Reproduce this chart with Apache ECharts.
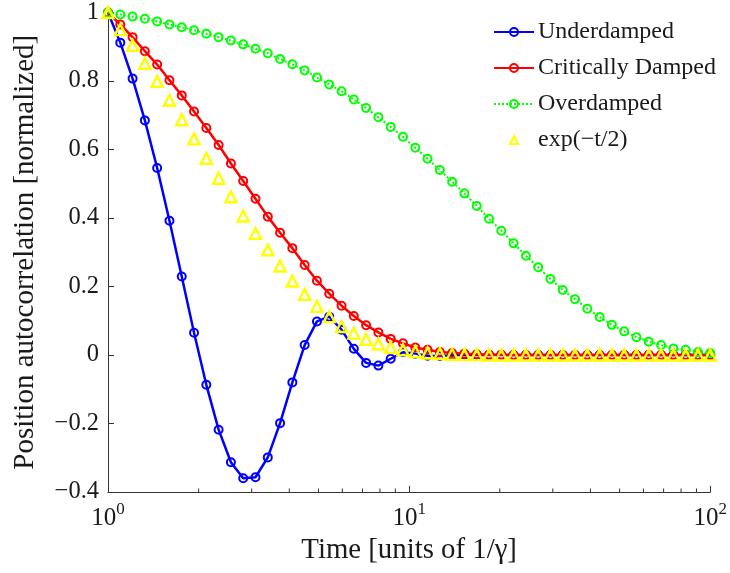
<!DOCTYPE html>
<html>
<head>
<meta charset="utf-8">
<script src="https://cdn.jsdelivr.net/npm/echarts@6/dist/echarts.min.js"></script>
<style>
html,body{margin:0;padding:0;background:#fff;}
#chart{width:730px;height:573px;}
</style>
</head>
<body>
<div id="chart"></div>
<script>
// Time samples (log-spaced, units of 1/gamma)
const times = [1, 1.0985, 1.2068, 1.3257, 1.4563, 1.5999, 1.7575, 1.9307, 2.1210, 2.3300,
  2.5595, 2.8118, 3.0888, 3.3932, 3.7276, 4.0949, 4.4984, 4.9417, 5.4287, 5.9636,
  6.5513, 7.1969, 7.9060, 8.6851, 9.5410, 10.481, 11.514, 12.649, 13.895, 15.264,
  16.768, 18.421, 20.236, 22.230, 24.421, 26.827, 29.471, 32.375, 35.565, 39.069,
  42.919, 47.149, 51.795, 56.899, 62.506, 68.665, 75.431, 82.864, 91.030, 100];

const underdamped = [1.000, 0.912, 0.807, 0.685, 0.546, 0.392, 0.229, 0.065, -0.087, -0.218,
  -0.313, -0.360, -0.357, -0.299, -0.199, -0.080, 0.029, 0.098, 0.112, 0.074,
  0.018, -0.023, -0.031, -0.011, 0.008, 0.004, -0.002, -0.003, -0.001, 0.001,
  0, 0, 0, 0, 0, 0, 0, 0, 0, 0,
  0, 0, 0, 0, 0, 0, 0, 0, 0, 0];

const criticallyDamped = [1.000, 0.965, 0.928, 0.887, 0.848, 0.802, 0.758, 0.711, 0.663, 0.613,
  0.559, 0.508, 0.456, 0.404, 0.357, 0.312, 0.263, 0.217, 0.179, 0.144,
  0.114, 0.087, 0.066, 0.047, 0.034, 0.022, 0.015, 0.009, 0.006, 0.004,
  0.002, 0.001, 0.001, 0, 0, 0, 0, 0, 0, 0,
  0, 0, 0, 0, 0, 0, 0, 0, 0, 0];

const overdamped = [1.000, 0.994, 0.988, 0.982, 0.974, 0.965, 0.957, 0.948, 0.938, 0.928,
  0.918, 0.907, 0.894, 0.881, 0.864, 0.849, 0.831, 0.810, 0.790, 0.770,
  0.746, 0.721, 0.694, 0.666, 0.637, 0.605, 0.573, 0.540, 0.506, 0.472,
  0.435, 0.398, 0.363, 0.326, 0.290, 0.256, 0.222, 0.190, 0.163, 0.135,
  0.111, 0.088, 0.069, 0.052, 0.039, 0.029, 0.019, 0.015, 0.009, 0.006];

const expHalf = [1.000, 0.950, 0.904, 0.852, 0.799, 0.744, 0.687, 0.631, 0.574, 0.516,
  0.462, 0.406, 0.355, 0.307, 0.260, 0.216, 0.177, 0.142, 0.112, 0.083,
  0.064, 0.046, 0.032, 0.022, 0.015, 0.010, 0.006, 0.004, 0.002, 0.001,
  0.001, 0, 0, 0, 0, 0, 0, 0, 0, 0,
  0, 0, 0, 0, 0, 0, 0, 0, 0, 0];

const seriesNames = ['Underdamped', 'Critically Damped', 'Overdamped', 'exp(\u2212t/2)'];
const xMinorTicks = [2, 3, 4, 5, 6, 7, 8, 9, 20, 30, 40, 50, 60, 70, 80, 90];
const yMin = -0.4, yMax = 1, yStep = 0.2;
const xMin = 1, xMax = 100;

const FONT = "'Liberation Serif', 'Times New Roman', serif";
const TXT = '#1a1a1a';
const AX = '#333';

function pairs(vals) { return times.map((t, i) => [t, vals[i]]); }

function lineSeries(name, vals, color, opts) {
  return Object.assign({
    name: name,
    type: 'line',
    data: pairs(vals),
    symbol: 'circle',
    symbolSize: 8,
    showAllSymbol: true,
    clip: false,
    itemStyle: { color: 'rgba(0,0,0,0)', borderColor: color, borderWidth: 2 },
    lineStyle: { color: color, width: 2.5 },
    emphasis: { disabled: true },
    animation: false
  }, opts || {});
}

const chart = echarts.init(document.getElementById('chart'), null, { renderer: 'canvas' });
chart.setOption({
  backgroundColor: '#fff',
  animation: false,
  textStyle: { fontFamily: FONT, color: TXT },
  grid: { left: 108, right: 14, top: 12, bottom: 81, containLabel: false },
  legend: {
    data: seriesNames,
    orient: 'vertical',
    left: 493,
    top: 19,
    padding: 0,
    itemWidth: 40,
    itemHeight: 10,
    itemGap: 10,
    textStyle: { fontFamily: FONT, fontSize: 24, color: TXT, lineHeight: 26, padding: [0, 0, 0, -1] },
    selectedMode: false
  },
  xAxis: {
    type: 'log',
    logBase: 10,
    min: xMin,
    max: xMax,
    splitLine: { show: false },
    axisLine: { onZero: false, lineStyle: { color: AX, width: 1 } },
    axisTick: { inside: true, length: 6, lineStyle: { color: AX } },
    axisLabel: {
      margin: 9,
      formatter: function (v) {
        const e = Math.round(Math.log10(v));
        return '{b|10}{s|' + e + '}';
      },
      rich: {
        b: { fontFamily: FONT, fontSize: 25, color: TXT, lineHeight: 30, verticalAlign: 'bottom' },
        s: { fontFamily: FONT, fontSize: 17, color: TXT, lineHeight: 14, verticalAlign: 'top' }
      }
    },
    name: 'Time [units of 1/\u03B3]',
    nameLocation: 'middle',
    nameGap: 40,
    nameTextStyle: { fontFamily: FONT, fontSize: 28.8, color: TXT, verticalAlign: 'top' }
  },
  yAxis: {
    type: 'value',
    min: yMin,
    max: yMax,
    interval: yStep,
    splitLine: { show: false },
    axisLine: { lineStyle: { color: AX, width: 1 } },
    axisTick: { inside: true, length: 6, lineStyle: { color: AX } },
    axisLabel: {
      margin: 9,
      fontFamily: FONT,
      fontSize: 24.5,
      color: TXT,
      formatter: function (v) {
        const r = Math.round(v * 10) / 10;
        return String(r).replace('-', '\u2212');
      }
    },
    name: 'Position autocorrelation [normalized]',
    nameLocation: 'middle',
    nameGap: 68,
    nameTextStyle: { fontFamily: FONT, fontSize: 29, color: TXT }
  },
  series: [
    lineSeries(seriesNames[0], underdamped, '#0000ff'),
    lineSeries(seriesNames[1], criticallyDamped, '#ff0000'),
    lineSeries(seriesNames[2], overdamped, '#00ff00', {
      lineStyle: { color: '#00ff00', width: 2, type: 'dotted' }
    }),
    lineSeries(seriesNames[3], expHalf, '#ffff00', {
      symbol: 'triangle',
      symbolSize: 11,
      itemStyle: { color: 'rgba(0,0,0,0)', borderColor: '#ffff00', borderWidth: 2.4 },
      lineStyle: { color: '#ffff00', width: 0, opacity: 0 }
    }),
    {
      name: 'minorTicks',
      type: 'custom',
      data: xMinorTicks.map(v => [v, yMin]),
      clip: false,
      silent: true,
      animation: false,
      renderItem: function (params, api) {
        const p = api.coord([api.value(0), api.value(1)]);
        return {
          type: 'line',
          shape: { x1: p[0], y1: p[1], x2: p[0], y2: p[1] - 3.5 },
          style: { stroke: AX, lineWidth: 1 }
        };
      }
    }
  ]
});
</script>
</body>
</html>
